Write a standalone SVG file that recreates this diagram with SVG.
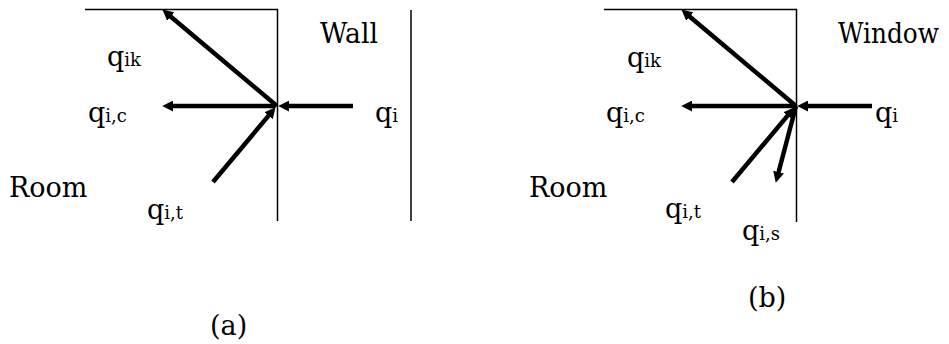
<svg xmlns="http://www.w3.org/2000/svg" width="949" height="344" viewBox="0 0 949 344">
<style>
text{font-family:'DejaVu Serif','Liberation Serif',serif;fill:#000}
.big{font-size:27px}
.sub{font-size:18px}
.lab{font-size:27px}
.thin{stroke:#000;stroke-width:1.5;fill:none}
.arr{stroke:#000;stroke-width:4.5;fill:none;marker-end:url(#ah)}
</style>
<defs>
<marker id="ah" viewBox="0 0 10 10" refX="2" refY="5" markerWidth="11" markerHeight="11" markerUnits="userSpaceOnUse" orient="auto">
<path d="M0,0 L10,5 L0,10 z" fill="#000"/>
</marker>
</defs>
<rect width="949" height="344" fill="#fff"/>
<g id="panel-a">
<g id="surface-a"><path class="thin" d="M85,9.5 H277.5 V221"/></g>
<g id="wall-line-a"><path class="thin" d="M411,10 V221"/></g>
<g id="connectors-a">
<line class="arr" x1="277" y1="106" x2="169.1" y2="15.2"/>
<line class="arr" x1="275" y1="106" x2="171" y2="106"/>
<line class="arr" x1="353" y1="106" x2="287" y2="106"/>
<line class="arr" x1="213" y1="182" x2="269.9" y2="114.1"/>
</g>
<g id="labels-a">
<text class="big" x="320" y="43" textLength="58" lengthAdjust="spacingAndGlyphs">Wall</text>
<text class="big" x="9" y="197">Room</text>
<text x="107" y="66"><tspan class="big">q</tspan><tspan class="sub">ik</tspan></text>
<text x="88" y="122"><tspan class="big">q</tspan><tspan class="sub">i,c</tspan></text>
<text x="375" y="122"><tspan class="big">q</tspan><tspan class="sub">i</tspan></text>
<text x="147" y="219"><tspan class="big">q</tspan><tspan class="sub">i,t</tspan></text>
<text class="lab" x="210" y="335">(a)</text>
</g>
</g>
<g id="panel-b">
<g id="surface-b"><path class="thin" d="M604,9.5 H796.5 V222"/></g>
<g id="connectors-b">
<line class="arr" x1="796" y1="106" x2="688.1" y2="15.2"/>
<line class="arr" x1="794" y1="106" x2="690" y2="106"/>
<line class="arr" x1="872" y1="106" x2="806" y2="106"/>
<line class="arr" x1="732" y1="182" x2="788.9" y2="114.1"/>
<line class="arr" x1="796" y1="106" x2="778" y2="174.3"/>
</g>
<g id="labels-b">
<text class="big" x="838" y="43" textLength="101" lengthAdjust="spacingAndGlyphs">Window</text>
<text class="big" x="529" y="197">Room</text>
<text x="627" y="67"><tspan class="big">q</tspan><tspan class="sub">ik</tspan></text>
<text x="606" y="122"><tspan class="big">q</tspan><tspan class="sub">i,c</tspan></text>
<text x="875" y="122"><tspan class="big">q</tspan><tspan class="sub">i</tspan></text>
<text x="665" y="218"><tspan class="big">q</tspan><tspan class="sub">i,t</tspan></text>
<text x="742" y="240"><tspan class="big">q</tspan><tspan class="sub">i,s</tspan></text>
<text class="lab" x="748" y="307">(b)</text>
</g>
</g>
</svg>
